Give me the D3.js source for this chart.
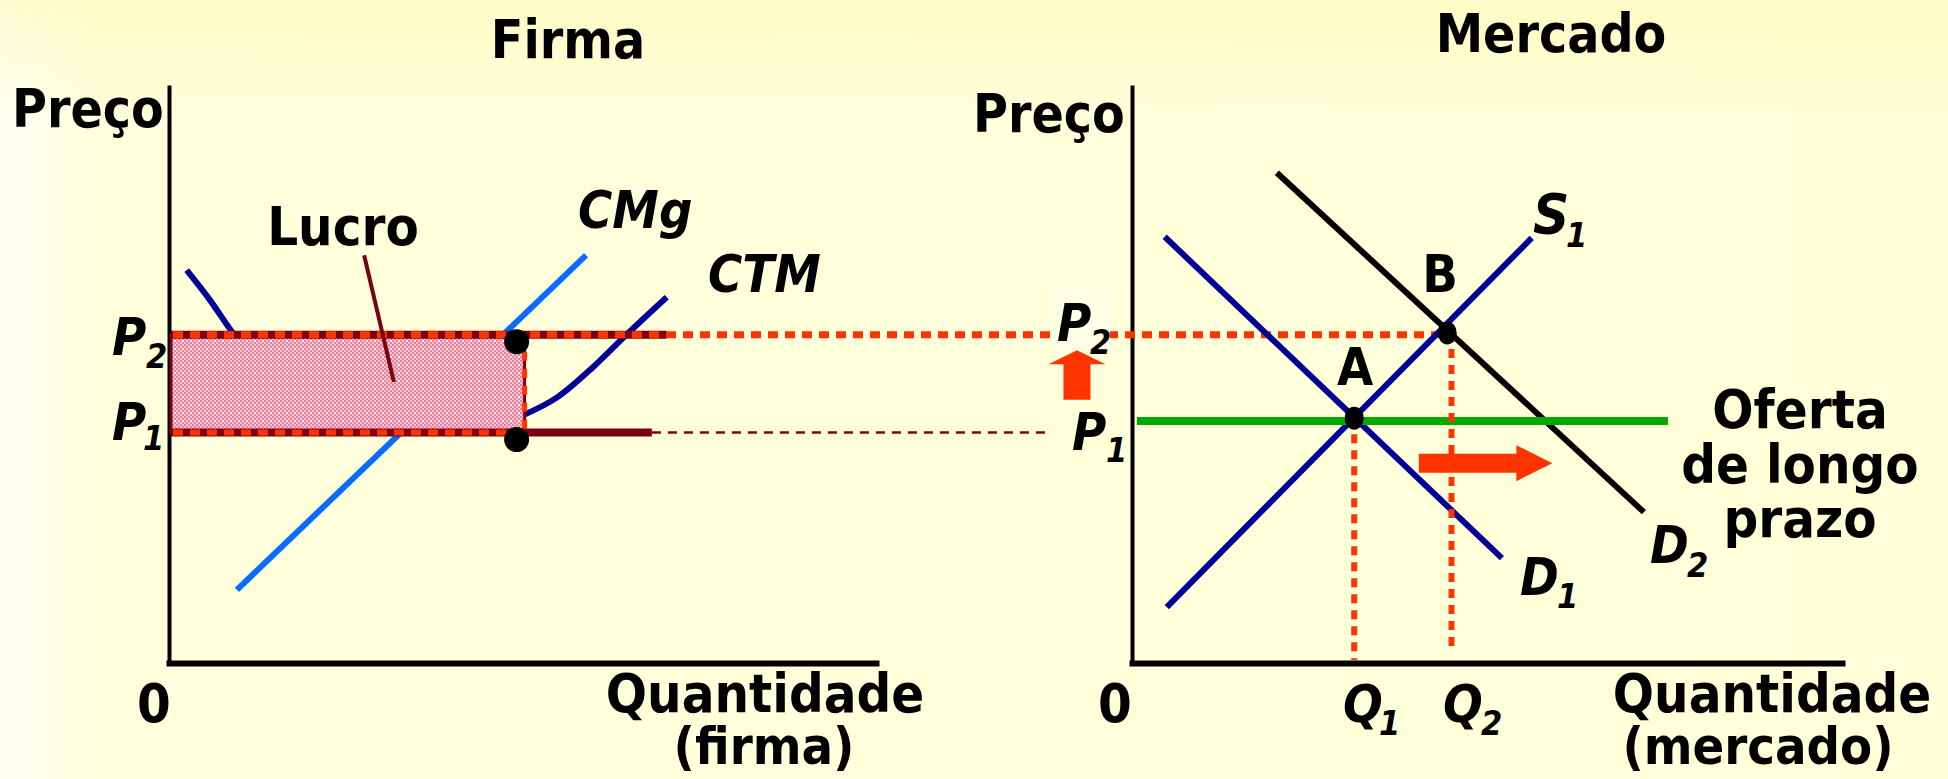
<!DOCTYPE html>
<html lang="pt">
<head>
<meta charset="UTF-8">
<title>Firma e Mercado - longo prazo</title>
<script src="https://d3js.org/d3.v7.min.js"></script>
<style>
  body { margin: 0; background: #ffffd9; }
  svg { display: block; }
  text { font-family: "DejaVu Sans Condensed", "DejaVu Sans", sans-serif; font-stretch: condensed; font-weight: bold; fill: #000; }
  .it { font-style: italic; }
</style>
</head>
<body>
<svg width="1948" height="779"></svg>
<script>
// precos
const P2 = 57, P1firma = 40, P1mercado = 42;
const qFirma = 50.3;

// firma
const cmg = [{q: 9.6, p: 12.7}, {q: 59, p: 70.8}];
const ctm = [
  {q: 2.5, p: 68.2}, {q: 5.8, p: 63.0}, {q: 8.9, p: 57.5}, {q: 18.4, p: 45.7},
  {q: 29.7, p: 40.8}, {q: 40.3, p: 40.1}, {q: 50.2, p: 43.1}, {q: 55, p: 46.2},
  {q: 60, p: 51.4}, {q: 64.2, p: 56.4}, {q: 70.4, p: 63.5}
];
const lucroSeta = [{q: 27.6, p: 70.8}, {q: 31.8, p: 48.8}];
const fimP2firma = 70.4, fimP1firma = 68.3;

// mercado
const s1 = [{q: 4.9, p: 9.7}, {q: 56.3, p: 73.8}];
const d1 = [{q: 4.6, p: 74.0}, {q: 52.1, p: 18.2}];
const d2 = [{q: 20.4, p: 85.1}, {q: 72.1, p: 26.2}];
const ofertaLP = [{q: 0.7, p: 42}, {q: 75.5, p: 42}];
const Q1 = 31.3, Q2 = 45;
const pontoA = {q: 31.3, p: 42.5}, pontoB = {q: 44.4, p: 57.3};
const fimTracejadoP1 = -11.3;   // em unidades do mercado
const setaCima = {q: -7.75, p0: 45.7, p1: 54.3};
const setaDireita = {p: 34.7, q0: 40.4, q1: 59.2};

const svg = d3.select("svg");
const W = 1948, H = 779;

const xF = d3.scaleLinear().domain([0, 100]).range([169, 876]);
const xM = d3.scaleLinear().domain([0, 100]).range([1132, 1842]);
const y = d3.scaleLinear().domain([0, 100]).range([663, 87]);

// fundo
const defs = svg.append("defs");
const gl = defs.append("linearGradient").attr("id", "bgL");
gl.append("stop").attr("offset", 0).attr("stop-color", "#fffff4");
gl.append("stop").attr("offset", 0.05).attr("stop-color", "#ffffdc");
gl.append("stop").attr("offset", 1).attr("stop-color", "#ffffd8");
const gt = defs.append("linearGradient").attr("id", "bgT").attr("x2", 0).attr("y2", 1);
gt.append("stop").attr("offset", 0).attr("stop-color", "#fff8b8").attr("stop-opacity", 0.6);
gt.append("stop").attr("offset", 0.15).attr("stop-color", "#fff8b8").attr("stop-opacity", 0);
svg.append("rect").attr("width", W).attr("height", H).attr("fill", "url(#bgL)");
svg.append("rect").attr("width", W).attr("height", H).attr("fill", "url(#bgT)");

// textura do lucro
const pat = defs.append("pattern").attr("id", "lucro").attr("patternUnits", "userSpaceOnUse")
  .attr("width", 8).attr("height", 8);
pat.append("rect").attr("width", 8).attr("height", 8).attr("fill", "#f6c3d0");
[[0, 0], [4, 0], [2, 2], [6, 2], [0, 4], [4, 4], [2, 6], [6, 6]].forEach(([a, b]) =>
  pat.append("rect").attr("x", a).attr("y", b).attr("width", 2).attr("height", 2).attr("fill", "#e6809b"));
pat.append("rect").attr("x", 6).attr("y", 4).attr("width", 2).attr("height", 2).attr("fill", "#ffffff");

const lineF = d3.line().x(d => xF(d.q)).y(d => y(d.p));
const lineM = d3.line().x(d => xM(d.q)).y(d => y(d.p));

// eixos
function eixo(g, w) {
  g.select(".domain").attr("stroke", "#000").attr("stroke-width", w).attr("stroke-linecap", "square");
}
svg.append("g").attr("transform", `translate(${xF(0)},0)`)
  .call(d3.axisLeft(y).tickValues([]).tickSizeOuter(0)).call(eixo, 4);
svg.append("g").attr("transform", `translate(0,${y(0)})`)
  .call(d3.axisBottom(xF).tickValues([]).tickSizeOuter(0)).call(eixo, 6);
svg.append("g").attr("transform", `translate(${xM(0)},0)`)
  .call(d3.axisLeft(y).tickValues([]).tickSizeOuter(0)).call(eixo, 4);
svg.append("g").attr("transform", `translate(0,${y(0)})`)
  .call(d3.axisBottom(xM).tickValues([]).tickSizeOuter(0)).call(eixo, 6);

// ---- firma ----
svg.append("path").datum(ctm).attr("d", lineF.curve(d3.curveMonotoneX))
  .attr("fill", "none").attr("stroke", "#000099").attr("stroke-width", 6);
lineF.curve(d3.curveLinear);
svg.append("path").datum(cmg).attr("d", lineF)
  .attr("fill", "none").attr("stroke", "#0a6cff").attr("stroke-width", 6);

svg.append("rect")
  .attr("x", xF(0) + 2).attr("y", y(P2))
  .attr("width", xF(qFirma) - xF(0) - 2).attr("height", y(P1firma) - y(P2))
  .attr("fill", "url(#lucro)").attr("stroke", "#7a0016").attr("stroke-width", 3);

const bordo = "#7a0016", laranja = "#ff3300";
svg.append("line").attr("x1", xF(0) + 2).attr("x2", xF(fimP2firma)).attr("y1", y(P2)).attr("y2", y(P2))
  .attr("stroke", bordo).attr("stroke-width", 8);
svg.append("line").attr("x1", xF(0) + 2).attr("x2", xF(fimP1firma)).attr("y1", y(P1firma)).attr("y2", y(P1firma))
  .attr("stroke", bordo).attr("stroke-width", 8);
svg.append("line").attr("x1", xF(fimP1firma)).attr("x2", xM(fimTracejadoP1)).attr("y1", y(P1firma)).attr("y2", y(P1firma))
  .attr("stroke", bordo).attr("stroke-width", 2.5).attr("stroke-dasharray", "9,7");

// pontilhados laranja
svg.append("line").attr("x1", xF(0) + 4).attr("x2", xM(pontoB.q)).attr("y1", y(P2)).attr("y2", y(P2))
  .attr("stroke", laranja).attr("stroke-width", 7).attr("stroke-dasharray", "10,7");
svg.append("line").attr("x1", xF(0) + 4).attr("x2", xF(qFirma)).attr("y1", y(P1firma)).attr("y2", y(P1firma))
  .attr("stroke", laranja).attr("stroke-width", 6).attr("stroke-dasharray", "10,7");
svg.append("line").attr("x1", xF(qFirma)).attr("x2", xF(qFirma)).attr("y1", y(P2)).attr("y2", y(P1firma))
  .attr("stroke", laranja).attr("stroke-width", 5).attr("stroke-dasharray", "9,8");

svg.append("path").datum(lucroSeta).attr("d", lineF)
  .attr("fill", "none").attr("stroke", bordo).attr("stroke-width", 4);

svg.selectAll("circle.firma").data([P2, P1firma]).enter().append("circle")
  .attr("cx", xF(qFirma) - 8).attr("cy", d => y(d) + 7).attr("r", 12.5).attr("fill", "#000");

// ---- mercado ----
svg.append("rect").attr("x", xM(0) - 80).attr("y", 286).attr("width", 58).attr("height", 64)
  .attr("fill", "#ffffe6");

svg.append("path").datum(d2).attr("d", lineM).attr("fill", "none").attr("stroke", "#000").attr("stroke-width", 6);
svg.append("path").datum(d1).attr("d", lineM).attr("fill", "none").attr("stroke", "#000099").attr("stroke-width", 6);
svg.append("path").datum(s1).attr("d", lineM).attr("fill", "none").attr("stroke", "#000099").attr("stroke-width", 6);
svg.append("path").datum(ofertaLP).attr("d", lineM).attr("fill", "none").attr("stroke", "#00aa00").attr("stroke-width", 8);

svg.append("line").attr("x1", xM(Q1)).attr("x2", xM(Q1)).attr("y1", y(pontoA.p)).attr("y2", y(0) - 3)
  .attr("stroke", laranja).attr("stroke-width", 6).attr("stroke-dasharray", "9,7");
svg.append("line").attr("x1", xM(Q2)).attr("x2", xM(Q2)).attr("y1", y(pontoB.p)).attr("y2", y(2.8))
  .attr("stroke", laranja).attr("stroke-width", 6).attr("stroke-dasharray", "9,7");

svg.selectAll("ellipse.eq").data([pontoA, pontoB]).enter().append("ellipse")
  .attr("cx", d => xM(d.q)).attr("cy", d => y(d.p)).attr("rx", 9.5).attr("ry", 11.5).attr("fill", "#000");

// setas
const xu = xM(setaCima.q), yb = y(setaCima.p0), yt = y(setaCima.p1);
svg.append("path").attr("fill", laranja).attr("d",
  `M${xu - 13.5},${yb}V${yt + 14}H${xu - 28.5}L${xu},${yt}L${xu + 28.5},${yt + 14}H${xu + 13.5}V${yb}Z`);
const yr = y(setaDireita.p), xl = xM(setaDireita.q0), xr = xM(setaDireita.q1);
svg.append("path").attr("fill", laranja).attr("d",
  `M${xl},${yr - 9.5}H${xr - 36}V${yr - 18}L${xr},${yr}L${xr - 36},${yr + 18}V${yr + 9.5}H${xl}Z`);

// ---- textos ----
function txt(x, yy, s, size, anchor, cls) {
  return svg.append("text").attr("x", x).attr("y", yy).attr("font-size", size)
    .attr("text-anchor", anchor || "start").attr("class", cls || null).text(s);
}

txt(568, 58, "Firma", 53, "middle");
txt(1551, 52, "Mercado", 53, "middle");
txt(12, 127, "Preço", 53);
txt(973, 132, "Preço", 53);
txt(xF(0) - 15, 722, "0", 54, "middle");
txt(xM(0) - 17, 722, "0", 54, "middle");
txt(765, 712, "Quantidade", 54, "middle");
txt(764, 764, "(firma)", 52, "middle");
txt(1772, 712, "Quantidade", 54, "middle");
txt(1758, 764, "(mercado)", 52, "middle");
txt(343, 245, "Lucro", 54, "middle");
txt(578, 228, "CMg", 52, "start", "it");
txt(708, 292, "CTM", 52, "start", "it");
txt(1355, 385, "A", 52, "middle");
txt(1440, 292, "B", 52, "middle");
["Oferta", "de longo", "prazo"].forEach((s, i) => txt(1800, 428 + i * 54.5, s, 54, "middle"));

// rotulos com indice
const rotulos = [
  {x: 112, y: y(P2) + 20, b: "P", i: "2", dx: 34, dy: 13},
  {x: 112, y: y(P1firma) + 7, b: "P", i: "1", dx: 31, dy: 10},
  {x: 1057, y: y(P2) + 6, b: "P", i: "2", dx: 33, dy: 13},
  {x: 1072, y: y(P1mercado) + 29, b: "P", i: "1", dx: 34, dy: 12},
  {x: 1343, y: 722, b: "Q", i: "1", dx: 36, dy: 13},
  {x: 1443, y: 722, b: "Q", i: "2", dx: 38, dy: 13},
  {x: 1533, y: 233, b: "S", i: "1", dx: 33, dy: 14, s: 56},
  {x: 1520, y: 595, b: "D", i: "1", dx: 37, dy: 13},
  {x: 1650, y: 563, b: "D", i: "2", dx: 37, dy: 14}
];
rotulos.forEach(r => {
  txt(r.x, r.y, r.b, r.s || 52, "start", "it");
  txt(r.x + r.dx, r.y + r.dy, r.i, 34, "start", "it");
});
</script>
</body>
</html>
